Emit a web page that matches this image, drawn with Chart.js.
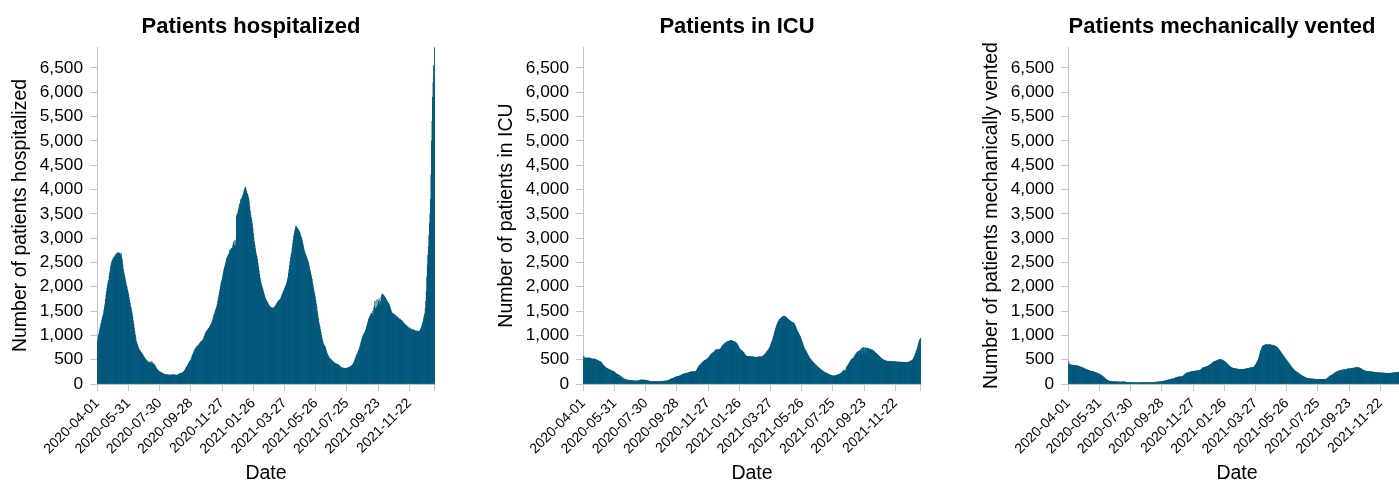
<!DOCTYPE html>
<html><head><meta charset="utf-8">
<script src="https://cdn.jsdelivr.net/npm/chart.js@4.4.1/dist/chart.umd.min.js"></script>
<style>
html,body{margin:0;padding:0;background:#fff;overflow:hidden;width:1399px;height:483px;}
#wrap{position:relative;width:1399px;height:483px;overflow:hidden;}
.panel{position:absolute;top:0;width:470px;height:483px;}
</style></head><body>
<div id="wrap">
<div class="panel" style="left:0px"><canvas id="c1" width="470" height="483"></canvas></div>
<div class="panel" style="left:486px"><canvas id="c2" width="470" height="483"></canvas></div>
<div class="panel" style="left:971px"><canvas id="c3" width="470" height="483"></canvas></div>
</div>
<script>
const startDate = '2020-04-01';
const tickLabels = ['2020-04-01','2020-05-31','2020-07-30','2020-09-28','2020-11-27','2021-01-26','2021-03-27','2021-05-26','2021-07-25','2021-09-23','2021-11-22'];
const yTicks = [0,500,1000,1500,2000,2500,3000,3500,4000,4500,5000,5500,6000,6500];
const yMax = 6930;

const hospitalized = [
860,910,980,1020,1080,1130,1170,1230,1260,1320,
1370,1400,1450,1520,1590,1650,1740,1830,1900,1980,
2040,2090,2130,2210,2280,2350,2420,2470,2510,2540,
2560,2590,2600,2610,2640,2630,2660,2680,2650,2690,
2700,2690,2670,2690,2660,2640,2680,2590,2550,2450,
2360,2300,2250,2200,2140,2080,2030,1990,1940,1900,
1850,1780,1720,1660,1600,1560,1500,1450,1380,1300,
1230,1150,1080,1010,950,880,840,810,780,750,
720,700,690,670,650,640,630,610,590,570,
555,540,520,505,495,485,470,460,450,440,
440,450,430,440,420,460,430,420,400,410,
390,380,360,340,320,300,290,280,270,260,
250,245,240,235,230,220,215,210,205,200,
200,195,190,195,190,185,190,185,180,185,
185,190,185,180,185,190,200,190,180,185,
190,185,175,180,190,195,190,200,210,215,
220,215,225,220,230,240,250,260,275,290,
310,330,350,370,390,410,430,450,465,480,
495,520,560,590,610,635,660,690,710,730,
740,760,770,780,790,800,815,830,845,860,
870,880,890,905,920,950,980,1010,1040,1060,
1080,1090,1110,1120,1140,1150,1170,1190,1210,1230,
1250,1290,1320,1360,1400,1430,1460,1500,1530,1560,
1590,1640,1700,1760,1820,1880,1940,2000,2060,2110,
2140,2200,2260,2310,2360,2400,2440,2480,2530,2580,
2600,2620,2660,2600,2700,2750,2760,2740,2790,2780,
2800,2850,2920,2780,2850,2960,2830,2900,3450,3500,
3480,3550,3600,3650,3700,3720,3780,3800,3820,3850,
3880,3900,3950,4000,4020,4050,4000,3960,3920,3900,
3860,3820,3750,3650,3560,3480,3420,3370,3300,3200,
3100,3000,2920,2850,2780,2700,2650,2620,2560,2480,
2400,2320,2250,2180,2120,2070,2030,2000,1960,1920,
1880,1840,1800,1770,1740,1720,1700,1680,1660,1640,
1620,1600,1590,1580,1570,1560,1570,1550,1560,1555,
1570,1580,1600,1610,1630,1650,1660,1680,1700,1710,
1720,1730,1740,1760,1790,1820,1850,1870,1900,1920,
1950,1980,2000,2030,2060,2100,2150,2200,2280,2360,
2440,2520,2600,2650,2700,2800,2880,2960,3040,3100,
3150,3200,3250,3230,3200,3210,3180,3160,3150,3120,
3100,3050,3020,3000,2950,2900,2850,2800,2750,2700,
2680,2650,2620,2590,2560,2530,2500,2450,2400,2340,
2300,2250,2200,2150,2080,2020,1960,1900,1850,1790,
1720,1650,1580,1500,1420,1350,1280,1220,1180,1120,
1060,1000,950,900,860,820,800,780,770,740,
700,660,630,600,580,560,540,530,515,505,
495,480,470,460,450,440,430,425,420,415,
410,405,405,400,390,380,370,360,350,340,
335,330,325,325,320,320,315,320,325,320,
320,325,330,335,340,345,350,360,365,375,
385,395,410,430,450,480,510,540,570,600,
620,640,670,700,730,760,800,840,880,920,
960,990,1010,1030,1050,1070,1100,1130,1170,1210,
1250,1290,1330,1360,1380,1400,1420,1460,1400,1440,
1500,1420,1560,1600,1700,1550,1520,1580,1730,1600,
1620,1700,1750,1650,1640,1700,1780,1820,1850,1840,
1830,1820,1800,1790,1770,1750,1730,1710,1690,1670,
1660,1640,1610,1580,1540,1510,1480,1460,1450,1440,
1440,1420,1430,1410,1400,1380,1390,1370,1360,1350,
1340,1330,1340,1320,1310,1300,1300,1290,1270,1250,
1240,1230,1220,1200,1210,1190,1170,1180,1150,1140,
1160,1130,1140,1110,1120,1130,1100,1110,1120,1090,
1100,1080,1090,1100,1070,1080,1090,1075,1080,1070,
1090,1110,1130,1150,1180,1220,1260,1300,1360,1400,
1450,1550,1700,1900,2200,2450,2650,2820,3050,3300,
3500,3800,4300,5000,5400,5900,6200,6550,6300,6920
];

const icu = [
490,570,540,530,540,535,530,540,530,535,
530,540,535,530,525,530,520,515,510,505,
520,515,510,505,500,495,490,485,480,475,
470,465,460,455,450,440,425,410,395,380,
370,360,350,340,330,320,315,310,305,300,
295,290,285,280,275,270,265,260,255,250,
245,235,225,215,205,200,195,190,185,180,
175,165,155,145,135,125,115,110,105,100,
95,90,88,85,82,80,80,78,75,72,
70,68,70,72,68,66,65,64,62,63,
62,64,62,60,62,65,70,68,72,75,
80,85,82,84,80,78,82,80,76,74,
80,78,72,70,66,62,60,58,55,52,
50,52,48,50,48,46,48,45,47,48,
48,46,45,48,50,47,46,48,50,52,
50,52,54,55,56,58,57,58,60,62,
62,65,68,72,75,80,85,90,95,100,
105,110,115,118,122,128,132,138,142,148,
150,152,155,158,160,164,168,172,178,184,
190,195,200,205,210,212,215,218,220,222,
220,225,230,235,240,240,245,248,250,248,
250,252,248,252,255,255,258,265,280,300,
320,340,360,375,385,395,410,420,430,440,
450,460,470,480,485,490,495,500,510,520,
530,540,555,570,585,600,610,620,630,640,
640,650,660,680,700,700,705,710,700,705,
700,710,715,720,725,740,760,775,790,800,
810,820,830,840,845,850,860,870,875,880,
885,880,890,895,890,895,890,885,880,870,
880,870,860,850,840,830,820,800,780,760,
740,725,710,700,690,680,670,660,650,640,
620,600,590,580,575,570,565,560,570,565,
560,570,565,555,560,565,555,560,550,555,
550,545,555,550,545,550,555,560,555,560,
555,560,555,560,565,570,580,590,600,610,
620,630,645,660,675,690,705,720,740,760,
790,820,850,880,910,950,980,1020,1060,1100,
1140,1170,1200,1230,1260,1280,1300,1320,1330,1340,
1350,1360,1370,1380,1385,1390,1395,1385,1390,1380,
1370,1360,1350,1340,1330,1320,1310,1300,1300,1290,
1280,1270,1260,1270,1260,1250,1230,1210,1190,1160,
1130,1100,1080,1060,1040,1020,1000,980,950,920,
890,860,830,800,770,740,720,700,680,660,
640,620,600,580,560,540,525,510,495,480,
470,455,445,435,425,415,400,390,380,370,
360,350,340,330,320,310,300,290,285,280,
275,265,255,245,240,235,230,225,220,215,
210,205,200,195,190,185,180,175,172,170,
168,165,165,168,170,172,175,178,182,185,
190,195,200,205,210,215,225,230,245,255,
265,275,285,240,260,290,330,350,370,390,
400,420,440,460,475,490,505,515,525,530,
540,560,575,590,610,625,640,650,660,665,
670,600,690,700,620,720,740,610,750,745,
740,620,745,740,735,640,740,735,730,725,
720,720,715,710,705,700,695,690,680,670,
660,650,640,630,620,610,600,590,580,570,
560,550,540,530,520,510,500,495,490,485,
480,475,470,472,468,465,470,465,460,465,
462,458,465,460,455,462,458,460,452,456,
460,455,450,458,452,448,455,450,445,452,
448,445,450,442,448,440,446,442,438,445,
440,445,438,442,448,445,450,455,460,465,
470,475,480,490,500,520,545,570,600,630,
660,690,720,760,800,840,880,910,920,940
];

const vented = [
380,450,400,395,390,392,388,385,390,386,
384,382,385,380,378,380,376,372,370,368,
365,362,358,355,350,345,340,335,330,325,
320,315,310,305,300,296,292,288,284,280,
276,272,268,265,262,260,258,255,252,248,
244,240,236,232,228,224,220,215,210,205,
200,195,190,185,178,170,160,150,140,130,
120,110,100,92,85,78,72,66,62,58,
55,52,50,50,48,48,47,46,45,45,
44,44,43,45,46,44,42,43,42,41,
40,41,42,40,42,44,45,44,42,40,
38,36,35,34,33,34,32,31,30,30,
30,29,28,28,27,27,26,27,26,25,
25,26,25,24,25,26,25,26,27,27,
26,27,28,27,26,27,28,27,26,27,
28,27,28,29,28,27,28,29,28,27,
28,29,30,31,32,33,34,35,36,37,
38,39,40,41,42,43,44,45,46,47,
48,50,52,55,58,60,62,65,68,72,
75,78,80,84,86,90,92,95,98,100,
102,104,105,108,112,118,125,130,135,138,
140,142,143,145,146,147,148,150,150,152,
155,165,175,185,195,205,212,218,222,228,
232,235,238,240,243,246,250,252,255,258,
255,260,262,265,262,268,270,272,270,275,
272,275,278,280,285,290,300,310,320,330,
335,340,345,342,350,355,352,360,365,370,
375,382,390,398,405,412,420,430,440,448,
455,460,465,470,472,476,480,485,490,495,
498,500,502,500,498,495,492,488,482,475,
468,460,450,440,430,420,410,400,390,380,
370,360,350,342,335,330,325,322,320,318,
316,315,312,310,308,306,305,304,303,302,
302,300,301,300,302,301,300,302,303,305,
306,308,310,312,315,318,320,322,325,328,
330,332,335,338,340,342,345,350,360,375,
390,410,430,450,470,490,520,560,600,640,
680,710,740,760,775,785,790,795,800,805,
810,805,810,800,810,805,815,800,805,810,
800,795,800,790,795,785,790,780,775,770,
765,760,750,740,725,710,695,680,665,650,
635,620,605,590,575,560,545,530,515,500,
485,470,455,440,428,415,400,385,370,355,
340,328,316,304,292,280,270,262,255,248,
240,232,224,216,208,200,192,185,178,172,
166,160,154,148,142,136,130,125,120,118,
116,114,112,110,108,106,105,104,103,102,
101,100,100,99,98,98,97,96,96,95,
95,96,95,94,95,96,95,94,95,96,
95,94,96,95,96,98,100,105,110,120,
130,140,150,160,168,175,180,185,190,195,
200,210,220,228,235,240,246,252,258,262,
266,270,272,275,278,280,282,285,288,290,
292,295,260,300,302,265,305,310,270,315,
318,280,320,318,285,322,325,320,324,326,
328,330,332,334,335,338,340,338,336,332,
328,322,316,310,304,298,292,286,280,276,
272,268,265,262,260,258,256,255,254,253,
252,250,249,248,247,246,245,244,242,240,
238,237,236,235,234,233,232,232,231,230,
229,228,227,226,225,224,224,223,222,222,
221,220,220,219,218,218,219,220,219,218,
220,222,224,225,226,228,230,232,232,233,
234,235,236,238,240,243,246,250,255,260,
266,272,280,288,296,305,315,325,335,345
];

// category labels: consecutive days starting at startDate
const dates = [];
(function(){
  const d0 = new Date(startDate + 'T00:00:00Z');
  for (let i = 0; i < hospitalized.length; i++) {
    const d = new Date(d0.getTime() + i * 86400000);
    dates.push(d.toISOString().slice(0, 10));
  }
})();

const barColor = '#03597b';
const axisColor = '#c4c4c4';
const textColor = '#000';
const FONT = '"Liberation Sans", Arial, Helvetica, sans-serif';
Chart.defaults.font.family = FONT;
Chart.defaults.color = textColor;

const panelTitle = {
  id: 'panelTitle',
  afterDraw(chart, args, opts) {
    const ctx = chart.ctx;
    ctx.save();
    ctx.font = 'bold ' + opts.size + 'px ' + FONT;
    ctx.fillStyle = textColor;
    ctx.textAlign = 'center';
    ctx.textBaseline = 'alphabetic';
    ctx.fillText(opts.text, chart.chartArea.left + opts.dx, opts.baseline);
    ctx.restore();
  }
};

const tickSet = new Set(tickLabels);

function makeChart(id, title, yTitle, values) {
  return new Chart(document.getElementById(id), {
    type: 'bar',
    data: {
      labels: dates,
      datasets: [{
        data: values,
        backgroundColor: barColor,
        borderWidth: 0,
        barPercentage: 1,
        categoryPercentage: 1
      }]
    },
    plugins: [panelTitle],
    options: {
      responsive: false,
      animation: false,
      devicePixelRatio: 1,
      layout: { padding: { top: 47, right: 35, bottom: 0, left: 0 } },
      plugins: {
        legend: { display: false },
        tooltip: { enabled: false },
        title: { display: false },
        panelTitle: { text: title, dx: 154, baseline: 33, size: 22 }
      },
      scales: {
        x: {
          type: 'category',
          offset: true,
          grid: { display: true, drawOnChartArea: false, drawTicks: true, tickLength: 7, color: axisColor, lineWidth: 1, offset: false },
          border: { display: true, color: axisColor, width: 1 },
          ticks: {
            autoSkip: false, minRotation: 45, maxRotation: 45, padding: 4,
            font: { size: 14 }, color: textColor,
            callback: function(v, i) {
              const l = this.getLabelForValue(v);
              if (tickSet.has(l)) return l;
              if (i === dates.length - 1) return '';
              return null;
            }
          },
          title: { display: true, text: 'Date', font: { size: 19.5, lineHeight: 1 }, color: textColor, padding: { top: 0, bottom: 0 } },
          afterFit: function(s) { s.height = 99; }
        },
        y: {
          min: 0, max: yMax,
          grid: { display: true, drawOnChartArea: false, drawTicks: true, tickLength: 7, color: axisColor, lineWidth: 1 },
          border: { display: true, color: axisColor, width: 1 },
          ticks: {
            autoSkip: false, padding: 7, font: { size: 17.3 }, color: textColor,
            callback: function(v) { return Number(v).toLocaleString('en-US'); }
          },
          afterBuildTicks: function(s) { s.ticks = yTicks.map(function(v) { return { value: v }; }); },
          title: { display: true, text: yTitle, font: { size: 19.5, lineHeight: 1.2 }, color: textColor, padding: { top: 9, bottom: 0 } },
          afterFit: function(s) { s.width = 97; }
        }
      }
    }
  });
}

makeChart('c1', 'Patients hospitalized', 'Number of patients hospitalized', hospitalized);
makeChart('c2', 'Patients in ICU', 'Number of patients in ICU', icu);
makeChart('c3', 'Patients mechanically vented', 'Number of patients mechanically vented', vented);
</script>
</body></html>
